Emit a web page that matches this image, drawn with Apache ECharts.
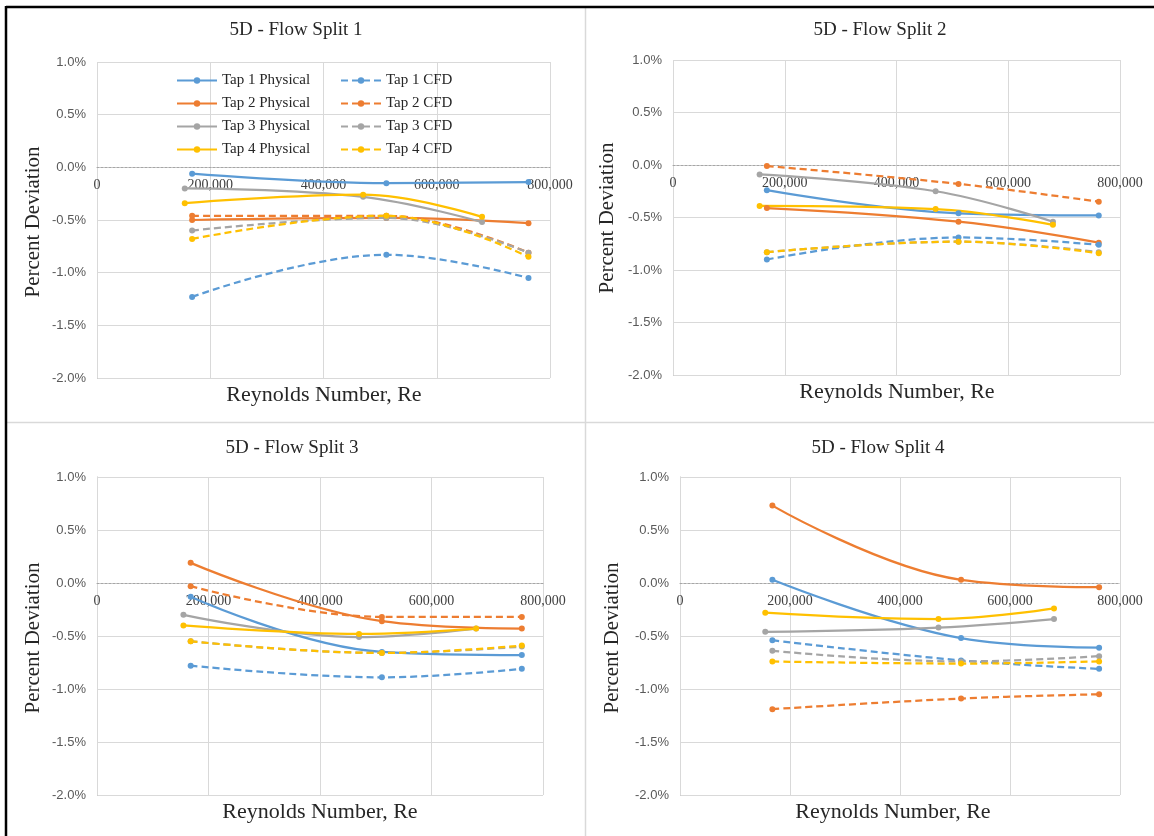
<!DOCTYPE html>
<html>
<head>
<meta charset="utf-8">
<script src="https://cdn.jsdelivr.net/npm/echarts@6/dist/echarts.min.js"></script>
<style>
html,body{margin:0;padding:0;background:#fff;}
#chart{width:1154px;height:836px;}
</style>
</head>
<body>
<div id="chart"></div>
<script>
// Reynolds numbers of the measurement points
const reA = [168000, 511000, 762000];   // CFD and Taps 1-2 physical
const reB = [155000, 470000, 680000];   // Taps 3-4 physical

const panelTitles = ['5D - Flow Split 1', '5D - Flow Split 2', '5D - Flow Split 3', '5D - Flow Split 4'];
const seriesNames = ['Tap 1 Physical', 'Tap 2 Physical', 'Tap 3 Physical', 'Tap 4 Physical',
                     'Tap 1 CFD', 'Tap 2 CFD', 'Tap 3 CFD', 'Tap 4 CFD'];
const yTicks = [-2.0, -1.5, -1.0, -0.5, 0.0, 0.5, 1.0];
const xTicks = [0, 200000, 400000, 600000, 800000];

// Flow split 1 (percent deviation)
const fs1Tap1Phys = [-0.06, -0.15, -0.14];
const fs1Tap2Phys = [-0.50, -0.48, -0.53];
const fs1Tap3Phys = [-0.20, -0.28, -0.52];
const fs1Tap4Phys = [-0.34, -0.26, -0.47];
const fs1Tap1Cfd  = [-1.23, -0.83, -1.05];
const fs1Tap2Cfd  = [-0.46, -0.46, -0.81];
const fs1Tap3Cfd  = [-0.60, -0.48, -0.81];
const fs1Tap4Cfd  = [-0.68, -0.46, -0.85];

// Flow split 2
const fs2Tap1Phys = [-0.24, -0.46, -0.48];
const fs2Tap2Phys = [-0.41, -0.54, -0.74];
const fs2Tap3Phys = [-0.09, -0.25, -0.54];
const fs2Tap4Phys = [-0.39, -0.42, -0.57];
const fs2Tap1Cfd  = [-0.90, -0.69, -0.76];
const fs2Tap2Cfd  = [-0.01, -0.18, -0.35];
const fs2Tap3Cfd  = [-0.83, -0.73, -0.83];
const fs2Tap4Cfd  = [-0.83, -0.73, -0.84];

// Flow split 3
const fs3Tap1Phys = [-0.13, -0.65, -0.68];
const fs3Tap2Phys = [0.19, -0.36, -0.43];
const fs3Tap3Phys = [-0.30, -0.51, -0.43];
const fs3Tap4Phys = [-0.40, -0.48, -0.43];
const fs3Tap1Cfd  = [-0.78, -0.89, -0.81];
const fs3Tap2Cfd  = [-0.03, -0.32, -0.32];
const fs3Tap3Cfd  = [-0.55, -0.66, -0.60];
const fs3Tap4Cfd  = [-0.55, -0.66, -0.59];

// Flow split 4
const fs4Tap1Phys = [0.03, -0.52, -0.61];
const fs4Tap2Phys = [0.73, 0.03, -0.04];
const fs4Tap3Phys = [-0.46, -0.42, -0.34];
const fs4Tap4Phys = [-0.28, -0.34, -0.24];
const fs4Tap1Cfd  = [-0.54, -0.73, -0.81];
const fs4Tap2Cfd  = [-1.19, -1.09, -1.05];
const fs4Tap3Cfd  = [-0.64, -0.74, -0.69];
const fs4Tap4Cfd  = [-0.74, -0.76, -0.74];

const panelData = [
  [fs1Tap1Phys, fs1Tap2Phys, fs1Tap3Phys, fs1Tap4Phys, fs1Tap1Cfd, fs1Tap2Cfd, fs1Tap3Cfd, fs1Tap4Cfd],
  [fs2Tap1Phys, fs2Tap2Phys, fs2Tap3Phys, fs2Tap4Phys, fs2Tap1Cfd, fs2Tap2Cfd, fs2Tap3Cfd, fs2Tap4Cfd],
  [fs3Tap1Phys, fs3Tap2Phys, fs3Tap3Phys, fs3Tap4Phys, fs3Tap1Cfd, fs3Tap2Cfd, fs3Tap3Cfd, fs3Tap4Cfd],
  [fs4Tap1Phys, fs4Tap2Phys, fs4Tap3Phys, fs4Tap4Phys, fs4Tap1Cfd, fs4Tap2Cfd, fs4Tap3Cfd, fs4Tap4Cfd]
];
const seriesX = [reA, reA, reB, reB, reA, reA, reA, reA];

// ---- layout / style ----
const colors = ['#5B9BD5', '#ED7D31', '#A5A5A5', '#FFC000'];
const grids = [
  {left: 97,  top: 62,  width: 453, height: 316},
  {left: 673, top: 60,  width: 447, height: 315},
  {left: 97,  top: 477, width: 446, height: 318},
  {left: 680, top: 477, width: 440, height: 318}
];
const titlePos = [[296, 30], [880, 30], [292, 448], [878, 448]];
const yNamePos = [[33, 222], [607, 218], [33, 638], [612, 638]];
const xNamePos = [[324, 395], [897, 392], [320, 812], [893, 812]];

const serif = '"Liberation Serif", "Times New Roman", serif';
const sans = '"Liberation Sans", Arial, sans-serif';

function fmtX(v) { return String(v).replace(/\B(?=(\d{3})+(?!\d))/g, ','); }

const yMin = yTicks[0], yMax = yTicks[yTicks.length - 1];
const xAxes = [], yAxes = [], series = [], graphic = [];
grids.forEach((g, i) => {
  // place the horizontal axis at the y = 0 line (Excel style crossing)
  const zeroOffset = -g.height * (0 - yMin) / (yMax - yMin);
  xAxes.push({
    type: 'value', gridIndex: i, min: xTicks[0], max: xTicks[xTicks.length - 1],
    interval: xTicks[1] - xTicks[0],
    position: 'bottom', offset: zeroOffset,
    axisLine: {show: true, onZero: false, lineStyle: {color: '#a6a6a6', type: [2, 2], width: 1}},
    axisTick: {show: false},
    axisLabel: {formatter: fmtX, fontFamily: serif, fontSize: 14, color: '#404040', margin: 11,
                showMinLabel: true, showMaxLabel: true},
    splitLine: {show: true, lineStyle: {color: '#d9d9d9', width: 1}},
    z: 3
  });
  yAxes.push({
    type: 'value', gridIndex: i, min: yMin, max: yMax,
    interval: yTicks[1] - yTicks[0],
    axisLine: {show: true, onZero: false, lineStyle: {color: '#bfbfbf', type: [2, 2], width: 1}},
    axisTick: {show: false},
    axisLabel: {formatter: v => v.toFixed(1) + '%', fontFamily: sans, fontSize: 13, color: '#595959', margin: 11},
    splitLine: {show: true, lineStyle: {color: '#d9d9d9', width: 1}}
  });
  panelData[i].forEach((vals, k) => {
    const col = colors[k % 4];
    const dashed = k >= 4;
    series.push({
      name: seriesNames[k], type: 'line', xAxisIndex: i, yAxisIndex: i,
      data: seriesX[k].map((x, j) => [x, vals[j]]),
      smooth: 0.4,
      symbol: 'circle', symbolSize: 6,
      lineStyle: {color: col, width: 2.25, type: dashed ? [7, 4] : 'solid'},
      itemStyle: {color: col},
      emphasis: {disabled: true},
      z: 4
    });
  });
  graphic.push({
    type: 'text', x: titlePos[i][0], y: titlePos[i][1],
    style: {text: panelTitles[i], font: '19px ' + serif, fill: '#262626',
            textAlign: 'center', textVerticalAlign: 'middle', align: 'center', verticalAlign: 'middle'}
  });
  graphic.push({
    type: 'text', x: xNamePos[i][0], y: xNamePos[i][1],
    style: {text: 'Reynolds Number, Re', font: '22px ' + serif, fill: '#262626',
            textAlign: 'center', textVerticalAlign: 'middle', align: 'center', verticalAlign: 'middle'}
  });
  graphic.push({
    type: 'text', x: yNamePos[i][0], y: yNamePos[i][1], rotation: Math.PI / 2,
    style: {text: 'Percent Deviation', font: '21px ' + serif, fill: '#262626',
            textAlign: 'center', textVerticalAlign: 'middle', align: 'center', verticalAlign: 'middle'}
  });
});

// frame and panel dividers
graphic.push({type: 'line', shape: {x1: 585.5, y1: 8, x2: 585.5, y2: 836}, style: {stroke: '#d9d9d9', lineWidth: 1.5}});
graphic.push({type: 'line', shape: {x1: 7, y1: 422.5, x2: 1154, y2: 422.5}, style: {stroke: '#d9d9d9', lineWidth: 1.5}});
graphic.push({type: 'line', shape: {x1: 6, y1: 7, x2: 1154, y2: 7}, style: {stroke: '#000', lineWidth: 2.5}});
graphic.push({type: 'line', shape: {x1: 6, y1: 6, x2: 6, y2: 836}, style: {stroke: '#000', lineWidth: 2.5}});

const legendCommon = {
  orient: 'vertical', itemWidth: 40, itemHeight: 8, itemGap: 8, padding: 0,
  textStyle: {fontFamily: serif, fontSize: 15, color: '#262626'},
  selectedMode: false
};

const chart = echarts.init(document.getElementById('chart'), null, {renderer: 'canvas'});
chart.setOption({
  animation: false,
  backgroundColor: '#fff',
  grid: grids,
  xAxis: xAxes,
  yAxis: yAxes,
  legend: [
    Object.assign({left: 176, top: 73, data: seriesNames.slice(0, 4)}, legendCommon),
    Object.assign({left: 340, top: 73, data: seriesNames.slice(4)}, legendCommon)
  ],
  series: series,
  graphic: graphic
});
</script>
</body>
</html>
